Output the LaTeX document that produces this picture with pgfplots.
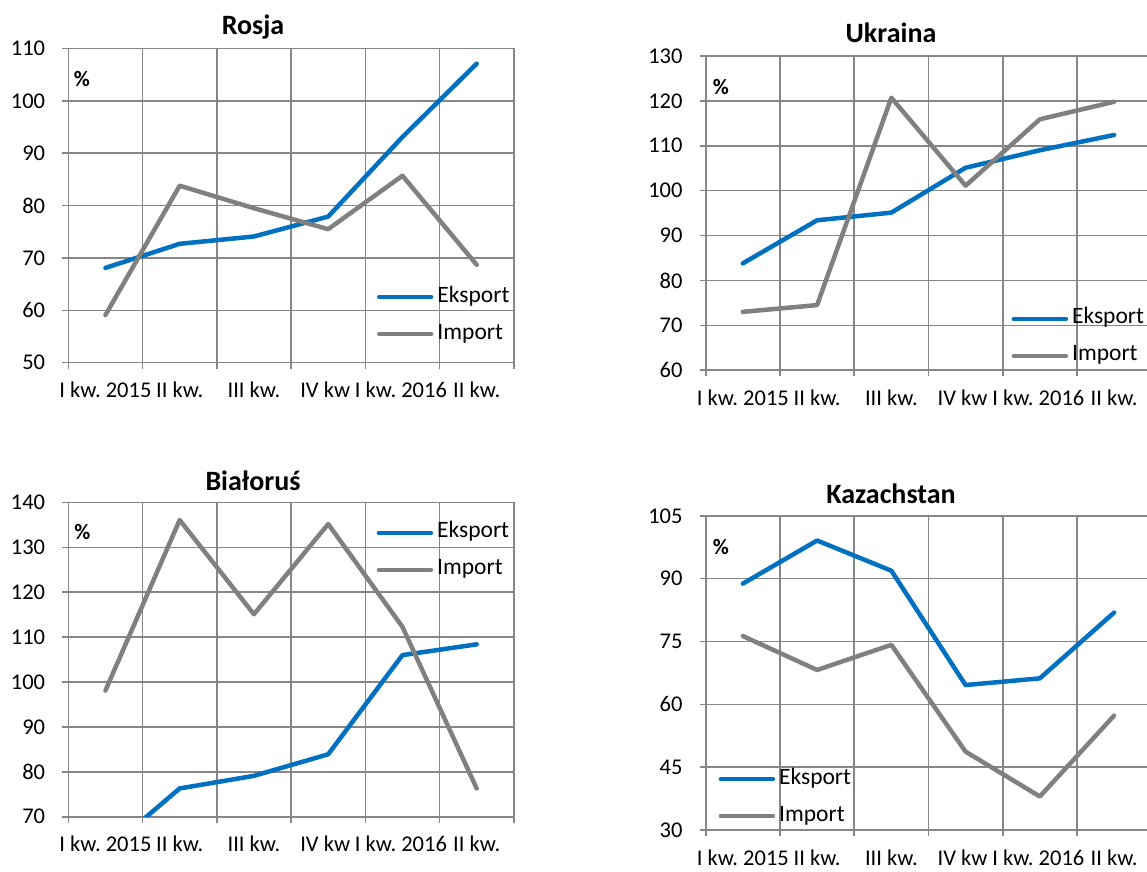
\documentclass[border=0pt]{standalone}
\usepackage{fontspec}
\setmainfont{Carlito}
\usepackage{pgfplots}
\pgfplotsset{compat=1.18}
\frenchspacing
\definecolor{expc}{RGB}{0,112,192}
\definecolor{impc}{RGB}{128,128,128}
\definecolor{gridc}{RGB}{134,134,134}
\pgfplotsset{
  panel/.style={
    scale only axis, width=445.5pt, height=314.2pt,
    anchor=south west,
    xmin=0.5, xmax=6.5,
    xtick={0.5,1.5,...,6.5},
    x tick label as interval,
    xticklabels={I kw. 2015, II kw., III kw., IV kw\rule{6pt}{0pt}, I kw. 2016\rule{3pt}{0pt}, II kw.},
    grid=major,
    major grid style={line width=1.6pt, color=gridc},
    axis line style={line width=1.6pt, color=gridc},
    every tick/.style={line width=1.6pt, color=gridc},
    tick align=outside, major tick length=6pt,
    xtick pos=left, ytick pos=left,
    tick label style={font=\fontsize{22.5}{26}\selectfont, color=black},
    /pgf/number format/assume math mode=true,
    yticklabel style={inner sep=0pt, anchor=east, xshift=-17pt},
    xticklabel style={inner sep=0pt, anchor=base, yshift=-29pt},
    legend image code/.code={\draw[##1, line cap=round] (0pt,0pt) -- (52pt,0pt);},
    legend style={draw=none, fill=none, inner sep=0pt, outer sep=0pt,
      anchor=north west, legend cell align=left,
      font=\fontsize{23.5}{27}\selectfont, row sep=17pt, column sep=4pt,
      nodes={inner sep=0pt, text height=15pt, text depth=5pt}},
  },
  ex/.style={color=expc, line width=4.5pt, line cap=round, line join=round, no markers},
  im/.style={color=impc, line width=4.5pt, line cap=round, line join=round, no markers},
}
\begin{document}
\begin{tikzpicture}
\clip (0pt,0pt) rectangle (1147pt,871pt);
% Rosja
\begin{axis}[panel, at={(68.3pt,508.3pt)}, ymin=50, ymax=110, ytick={50,60,...,110},
  legend style={at={(0.6929,0.2409)}}]
\addplot[ex] coordinates {(1,68.1) (2,72.7) (3,74.1) (4,77.9) (5,93.1) (6,107.1)};
\addplot[im] coordinates {(1,59.1) (2,83.8) (3,79.5) (4,75.5) (5,85.7) (6,68.7)};
\legend{Eksport, Import}
\end{axis}
% Ukraina
\begin{axis}[panel, at={(705.7pt,500.8pt)}, ymin=60, ymax=130, ytick={60,70,...,130},
  legend style={at={(0.6866,0.1948)}}]
\addplot[ex] coordinates {(1,83.8) (2,93.4) (3,95.1) (4,105.1) (5,109.0) (6,112.4)};
\addplot[im] coordinates {(1,73.0) (2,74.5) (3,120.7) (4,101.1) (5,115.9) (6,119.8)};
\legend{Eksport, Import}
\end{axis}
% Bialorus
\begin{axis}[panel, at={(68.3pt,54.3pt)}, ymin=70, ymax=140, ytick={70,80,...,140},
  legend style={at={(0.6922,0.9348)}}]
\addplot[ex] coordinates {(1,62.2) (2,76.3) (3,79.1) (4,83.9) (5,106.0) (6,108.4)};
\addplot[im] coordinates {(1,98.1) (2,136.1) (3,115.1) (4,135.2) (5,112.3) (6,76.3)};
\legend{Eksport, Import}
\end{axis}
% Kazachstan
\begin{axis}[panel, at={(705.7pt,41pt)}, ymin=30, ymax=105, ytick={30,45,...,105},
  legend style={at={(0.029,0.1941)}}]
\addplot[ex] coordinates {(1,88.8) (2,99.1) (3,91.9) (4,64.6) (5,66.2) (6,81.9)};
\addplot[im] coordinates {(1,76.3) (2,68.2) (3,74.2) (4,48.7) (5,38.0) (6,57.3)};
\legend{Eksport, Import}
\end{axis}
% titles
\begin{scope}[every node/.style={font=\fontsize{28}{32}\selectfont\bfseries, anchor=base, inner sep=0pt}]
\node at (253pt,836.7pt) {Rosja};
\node at (891pt,828.3pt) {Ukraina};
\node at (253pt,381pt) {Białoruś};
\node at (891pt,367.7pt) {Kazachstan};
\end{scope}
\begin{scope}[every node/.style={font=\fontsize{22}{26}\selectfont\bfseries, anchor=center, inner sep=0pt}]
\node at (82pt,792pt) {\%};
\node at (721pt,783.5pt) {\%};
\node at (82.3pt,338.5pt) {\%};
\node at (721pt,324pt) {\%};
\end{scope}
\end{tikzpicture}
\end{document}
